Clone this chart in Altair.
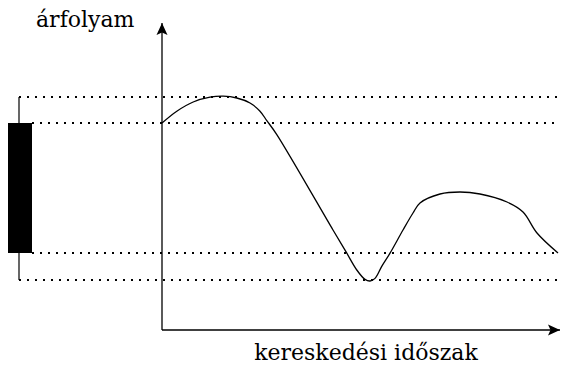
import altair as alt
import pandas as pd

# Price curve over the trading period (time units, price units)
curve_t = [0, 3.7, 7.8, 12, 15.3, 18.7, 22, 24.5, 26.2, 28.7, 42.75, 46.2, 48.7,
           50.75, 52, 53.25, 54.9, 57, 60.25, 62.75, 64.5, 69.5, 74.5, 79.5, 86.25, 90.25,
           93.75, 99]
curve_p = [103.5, 109.4, 114, 116.4, 116.9, 116, 113.5, 109.4, 104.7, 97.7, 50,
           38.4, 30, 25.3, 24.5, 25.8, 31.7, 38.4, 50, 58.5, 63.5, 68, 69, 68, 64, 59,
           48.5, 38.5]

# OHLC levels
level_names = ["high", "open", "close", "low"]
level_price = [116.5, 103.5, 38.5, 25]
level_start = [-35.75, -32.5, -32.5, -35.75]
level_end = [99.5, 99.5, 99.5, 99.5]

# Candle
candle_t = -35.75
candle_left = -39.0
candle_right = -32.5

# Axis extents
y_axis_top = 153.5
x_axis_right = 99.5

y_label = "árfolyam"
x_label = "kereskedési időszak"

XD = [-38.5, 99.5]
YD = [-17.5, 161]
FONT = "DejaVu Serif"


def X(field, **kw):
    return alt.X(field, type="quantitative", scale=alt.Scale(domain=XD, nice=False, zero=False), axis=None, **kw)


def Y(field, **kw):
    return alt.Y(field, type="quantitative", scale=alt.Scale(domain=YD, nice=False, zero=False), axis=None, **kw)


curve_df = pd.DataFrame({"t": curve_t, "p": curve_p, "o": list(range(len(curve_t)))})
levels_df = pd.DataFrame({"name": level_names, "p": level_price, "s": level_start, "e": level_end})
wick_df = pd.DataFrame({"t": [candle_t, candle_t], "p1": [level_price[0], level_price[2]],
                        "p2": [level_price[1], level_price[3]]})
body_df = pd.DataFrame({"l": [candle_left], "r": [candle_right], "top": [level_price[1]], "bot": [level_price[2]]})
axes_df = pd.DataFrame({"t": [0.0], "p": [0.0], "tt": [x_axis_right], "pt": [y_axis_top]})
text_df = pd.DataFrame({"t": [-31.5, 51.0], "p": [151.5, -15.0], "label": [y_label, x_label]})

levels = alt.Chart(levels_df).mark_rule(color="black", strokeWidth=2, strokeDash=[2, 6]).encode(
    x=X("s"), x2="e", y=Y("p"))

curve = alt.Chart(curve_df).mark_line(color="black", strokeWidth=1.3, interpolate="catmull-rom").encode(
    x=X("t"), y=Y("p"), order="o:Q")

wicks = alt.Chart(wick_df).mark_rule(color="black", strokeWidth=1.2).encode(
    x=X("t"), y=Y("p1"), y2="p2")

body = alt.Chart(body_df).mark_rect(color="black").encode(
    x=X("l"), x2="r", y=Y("top"), y2="bot")

yaxis = alt.Chart(axes_df).mark_rule(color="black", strokeWidth=1.3).encode(
    x=X("t"), y=Y("p"), y2="pt")
xaxis = alt.Chart(axes_df).mark_rule(color="black", strokeWidth=1.3).encode(
    x=X("t"), x2="tt", y=Y("p"))

up_arrow = alt.Chart(axes_df).mark_point(
    shape="M0,0L0.55,1.2L0,0.95L-0.55,1.2Z", size=400, filled=True, color="black", opacity=1,
    strokeWidth=0).encode(x=X("t"), y=Y("pt"))
right_arrow = alt.Chart(axes_df).mark_point(
    shape="M0,0L-1.2,0.55L-0.95,0L-1.2,-0.55Z", size=400, filled=True, color="black", opacity=1,
    strokeWidth=0).encode(x=X("tt"), y=Y("p"))

ylab = alt.Chart(text_df.iloc[[0]]).mark_text(
    font=FONT, fontSize=22, align="left", baseline="alphabetic", color="black").encode(
    x=X("t"), y=Y("p"), text="label")
xlab = alt.Chart(text_df.iloc[[1]]).mark_text(
    font=FONT, fontSize=22, align="center", baseline="alphabetic", color="black").encode(
    x=X("t"), y=Y("p"), text="label")

chart = alt.layer(levels, curve, wicks, body, yaxis, xaxis, up_arrow, right_arrow, ylab, xlab).properties(
    width=552, height=357, padding=0, autosize="none"
).configure_view(stroke=None)

chart.save("out.html", embed_options={"renderer": "svg", "actions": False})
